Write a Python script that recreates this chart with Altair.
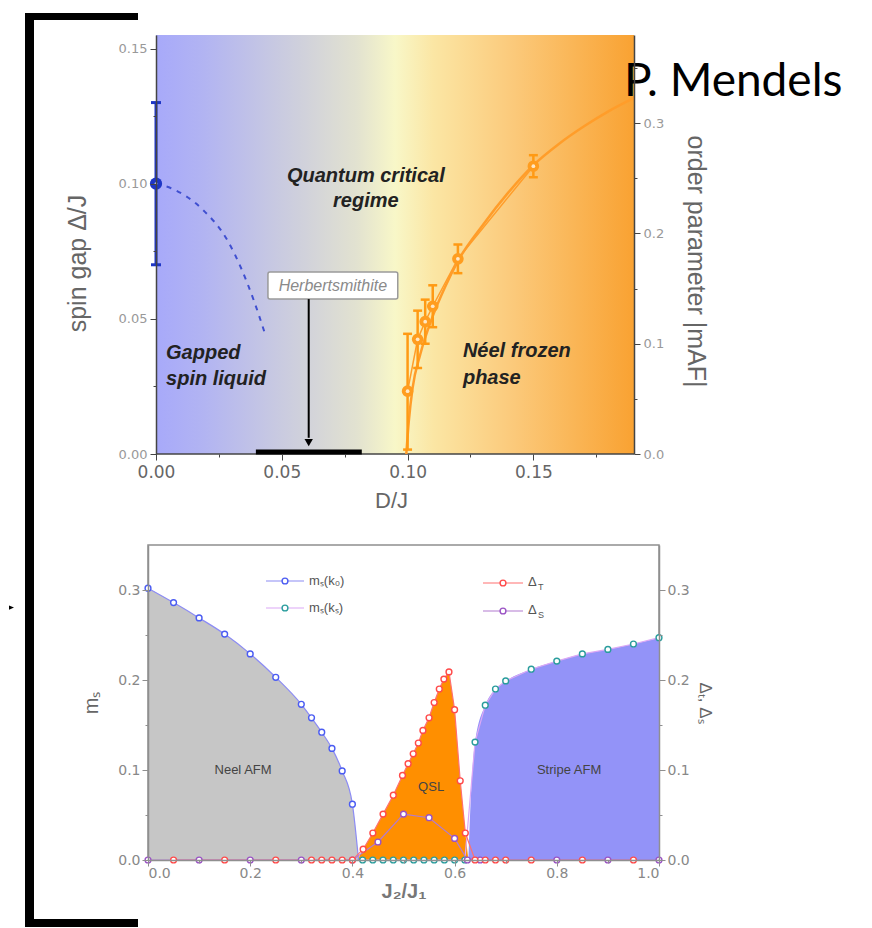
import altair as alt
import pandas as pd

FONT = "Liberation Sans"

# ================= top panel: spin gap / order parameter vs D/J =================
gap_D = [0.0]
gap_val = [0.100]
gap_lo = [0.070]
gap_hi = [0.130]

gapfit_D = [0.000, 0.006, 0.018, 0.0286, 0.039, 0.043]
gapfit_val = [0.100, 0.0983, 0.0909, 0.0787, 0.0565, 0.0454]

ord_D = [0.100, 0.104, 0.107, 0.110, 0.120, 0.150]
ord_m = [0.057, 0.104, 0.120, 0.134, 0.177, 0.261]
ord_lo = [0.004, 0.078, 0.100, 0.115, 0.164, 0.251]
ord_hi = [0.109, 0.130, 0.140, 0.153, 0.190, 0.271]

ordfit_D = [0.0995, 0.1005, 0.102, 0.105, 0.110, 0.115, 0.120, 0.130, 0.140, 0.150, 0.160, 0.170, 0.180, 0.190]
ordfit_m = [0.000, 0.030, 0.060, 0.090, 0.125, 0.152, 0.175, 0.208, 0.237, 0.262, 0.281, 0.297, 0.311, 0.323]

herb_box_D = [0.0445, 0.0961]
herb_box_val = [0.0573, 0.0673]
herb_label = ["Herbertsmithite"]
herb_label_D = [0.0703]
herb_label_val = [0.0623]
herb_arrow_D = [0.0607]
herb_arrow_val = [0.0573, 0.0060]
herb_head_val = [0.0042]
herb_range_D = [0.0397, 0.0818]
herb_range_val = [0.0007]

top_center_text = ["Quantum critical", "regime"]
top_center_D = [0.0834, 0.0834]
top_center_val = [0.1029, 0.0935]
top_left_text = ["Gapped", "spin liquid", "Néel frozen", "phase"]
top_left_D = [0.004, 0.004, 0.122, 0.122]
top_left_val = [0.0373, 0.0277, 0.0380, 0.0280]

top_plot_D = [0.0, 0.19]          # extent of the coloured phase background
top_x_domain = [-0.00318, 0.19]   # panel starts a few pixels left of D = 0
top_y_domain = [0.0, 0.155]
top_y2_domain = [0.0, 0.38]
top_x_ticks = [0.0, 0.025, 0.05, 0.075, 0.10, 0.125, 0.15, 0.175]
top_x_major = [0.0, 0.05, 0.10, 0.15]
top_y_ticks = [0.0, 0.025, 0.05, 0.075, 0.10, 0.125, 0.15]
top_y_major = [0.0, 0.05, 0.10, 0.15]
top_y2_ticks = [0.0, 0.05, 0.10, 0.15, 0.20, 0.25, 0.30, 0.35]
top_y2_major = [0.0, 0.10, 0.20, 0.30]

# gradient colours of the phase background (left -> right)
bg_offsets = [0.0, 0.10, 0.30, 0.42, 0.50, 0.58, 0.75, 1.0]
bg_colors = ["#a7a9fa", "#b2b4f2", "#cfd0dc", "#e2e2d0", "#f8f7c8", "#fbe6a4", "#fbc97a", "#f9a232"]

# ================= bottom panel: J2/J1 phase diagram =================
neel_x = [0.0, 0.05, 0.10, 0.15, 0.20, 0.25, 0.30, 0.32, 0.34, 0.36, 0.38, 0.40]
neel_m = [0.302, 0.286, 0.269, 0.251, 0.229, 0.203, 0.173, 0.158, 0.142, 0.124, 0.099, 0.062]
neel_end_x = [0.412]
neel_end_m = [0.0]

stripe_zero_x = [0.42, 0.44, 0.46, 0.48, 0.50, 0.52, 0.54, 0.56, 0.58, 0.60, 0.62]
stripe_x = [0.64, 0.66, 0.68, 0.70, 0.75, 0.80, 0.85, 0.90, 0.95, 1.00]
stripe_m = [0.131, 0.172, 0.190, 0.199, 0.212, 0.221, 0.229, 0.234, 0.240, 0.247]
stripe_edge_x = [0.627, 0.631]
stripe_edge_m = [0.0, 0.060]

dT_x = [0.05, 0.15, 0.25, 0.32, 0.34, 0.36, 0.38, 0.40,
        0.421, 0.44, 0.46, 0.48, 0.498, 0.509, 0.519, 0.529, 0.538, 0.55, 0.56, 0.57, 0.579, 0.589,
        0.60, 0.611, 0.621, 0.64, 0.66, 0.68, 0.70, 0.75, 0.85, 0.95]
dT_v = [0, 0, 0, 0, 0, 0, 0, 0,
        0.012, 0.030, 0.051, 0.072, 0.094, 0.107, 0.118, 0.130, 0.144, 0.158, 0.175, 0.190, 0.201, 0.209,
        0.167, 0.088, 0.030, 0, 0, 0, 0, 0, 0, 0]
qsl_edge_x = [0.41, 0.627]

dS_x = [0.0, 0.10, 0.20, 0.30, 0.40, 0.45, 0.50, 0.55, 0.60, 0.625, 0.65, 0.80, 0.90, 1.00]
dS_v = [0, 0, 0, 0, 0, 0.020, 0.051, 0.047, 0.024, 0, 0, 0, 0, 0]

bot_text = ["Neel AFM", "QSL", "Stripe AFM"]
bot_text_x = [0.186, 0.554, 0.824]
bot_text_v = [0.0995, 0.081, 0.0995]

bot_x_domain = [0.0, 1.0]
bot_y_domain = [0.0, 0.35]
bot_x_ticks = [0.0, 0.1, 0.2, 0.3, 0.4, 0.5, 0.6, 0.7, 0.8, 0.9, 1.0]
bot_x_major = [0.0, 0.2, 0.4, 0.6, 0.8, 1.0]
bot_y_ticks = [0.0, 0.05, 0.1, 0.15, 0.2, 0.25, 0.3]
bot_y_major = [0.0, 0.1, 0.2, 0.3]

C_GRAY, C_BLUEFILL, C_ORANGE = "#c6c6c6", "#9393f8", "#ff8f00"
C_BLUE, C_TEAL, C_RED, C_PURPLE = "#4b5cf2", "#2a9d9d", "#ff4a4a", "#9a52c4"
C_BLUELINE, C_VIOLETLINE, C_REDLINE, C_PURPLELINE = "#8c8cf4", "#dca8f5", "#ff7070", "#b27ad0"


def arr(lst):
    return "[" + ",".join(repr(float(v)) for v in lst) + "]"


def major_axis(ticks, major, fmt, **kw):
    test = f"indexof({arr(major)}, datum.value) < 0"
    return alt.Axis(
        values=ticks,
        labelExpr=f"indexof({arr(major)}, datum.value) >= 0 ? format(datum.value, '{fmt}') : ''",
        tickSize={"condition": {"test": test, "value": 3}, "value": 6},
        labelOverlap=False, grid=False, zindex=1, **kw)


one = pd.DataFrame({"k": [0]})

# ---------------- top panel ----------------
xs_t = alt.Scale(domain=top_x_domain, nice=False, zero=False)
ys_t = alt.Scale(domain=top_y_domain, nice=False)
ys_t2 = alt.Scale(domain=top_y2_domain, nice=False)
xax_t = major_axis(top_x_ticks, top_x_major, ".2f", title="D/J", labelFont="DejaVu Sans",
                   labelFontSize=17, labelColor="#666", labelPadding=4, domain=False,
                   tickColor="#444", titleFont=FONT, titleFontSize=22,
                   titleFontWeight="normal", titleColor="#666", titlePadding=10)
yax_t = major_axis(top_y_ticks, top_y_major, ".2f", title="spin gap Δ/J", labelFont="DejaVu Sans",
                   labelFontSize=13, labelColor="#999", labelPadding=3, domainColor="#444",
                   domainWidth=1.5, tickColor="#444", titleFont=FONT, titleFontSize=25,
                   titleFontWeight="normal", titleColor="#666", titlePadding=28, titleY=228, offset=-8)
yax_t2 = major_axis(top_y2_ticks, top_y2_major, ".1f", title="order parameter |mAF|", orient="right",
                    labelFont="DejaVu Sans", labelFontSize=13, labelColor="#999", labelPadding=3,
                    domainColor="#444", domainWidth=1.5, tickColor="#444", titleFont=FONT,
                    titleFontSize=25, titleFontWeight="normal", titleColor="#666", titlePadding=19,
                    titleY=226)


def tx(f):
    return alt.X(f, type="quantitative", scale=xs_t, axis=xax_t)


def ty(f):
    return alt.Y(f, type="quantitative", scale=ys_t, axis=yax_t)


def ty2(f):
    return alt.Y(f, type="quantitative", scale=ys_t2, axis=yax_t2)


bg_df = pd.DataFrame({"x0": [top_plot_D[0]], "x1": [top_plot_D[1]],
                      "y0": [top_y_domain[0]], "y1": [top_y_domain[1]]})
grad = alt.LinearGradient(gradient="linear", x1=0, x2=1, y1=0, y2=0,
                          stops=[alt.GradientStop(offset=o, color=c) for o, c in zip(bg_offsets, bg_colors)])
bg = alt.Chart(bg_df).mark_rect(fill=grad).encode(x=tx("x0"), x2="x1", y=ty("y0"), y2="y1")
base_line = alt.Chart(bg_df).mark_rule(color="#444", strokeWidth=1.5).encode(x=tx("x0"), x2="x1", y=ty("y0"))

gapfit = alt.Chart(pd.DataFrame({"D": gapfit_D, "v": gapfit_val})).mark_line(
    color="#3f4fd0", strokeWidth=2, strokeDash=[5, 6], interpolate="monotone").encode(x=tx("D"), y=ty("v"))

gap_df = pd.DataFrame({"D": gap_D, "v": gap_val, "lo": gap_lo, "hi": gap_hi})
gap_err = alt.Chart(gap_df).mark_rule(color="#1e36c6", strokeWidth=3).encode(x=tx("D"), y=ty("lo"), y2="hi")
gap_caps_df = pd.DataFrame({"D": gap_D * 2, "v": gap_lo + gap_hi})
gap_caps = alt.Chart(gap_caps_df).mark_point(shape="M-1,0L1,0", filled=False, color="#1e36c6",
                                             strokeWidth=3, size=100, opacity=1).encode(x=tx("D"), y=ty("v"))
gap_pt = alt.Chart(gap_df).mark_point(filled=True, color="#1e36c6", size=150, opacity=1).encode(x=tx("D"), y=ty("v"))
gap_hl = alt.Chart(gap_df).mark_point(filled=True, color="#e8ebff", size=8, opacity=0.9).encode(x=tx("D"), y=ty("v"))

herb_box = alt.Chart(pd.DataFrame({"x0": [herb_box_D[0]], "x1": [herb_box_D[1]],
                                   "y0": [herb_box_val[0]], "y1": [herb_box_val[1]]})).mark_rect(
    fill="white", stroke="#9a9a9a", strokeWidth=1.5, cornerRadius=2).encode(x=tx("x0"), x2="x1", y=ty("y0"), y2="y1")
herb_txt = alt.Chart(pd.DataFrame({"t": herb_label, "D": herb_label_D, "v": herb_label_val})).mark_text(
    font=FONT, fontSize=16, fontStyle="italic", color="#8a8a8a", align="center", baseline="middle").encode(
    x=tx("D"), y=ty("v"), text="t:N")
herb_arrow = alt.Chart(pd.DataFrame({"D": herb_arrow_D, "y0": [herb_arrow_val[0]], "y1": [herb_arrow_val[1]]})).mark_rule(
    color="black", strokeWidth=2).encode(x=tx("D"), y=ty("y0"), y2="y1")
herb_head = alt.Chart(pd.DataFrame({"D": herb_arrow_D, "v": herb_head_val})).mark_point(
    shape="triangle-down", filled=True, color="black", size=70, opacity=1).encode(x=tx("D"), y=ty("v"))
herb_range = alt.Chart(pd.DataFrame({"x0": [herb_range_D[0]], "x1": [herb_range_D[1]], "v": herb_range_val})).mark_rule(
    color="black", strokeWidth=5).encode(x=tx("x0"), x2="x1", y=ty("v"))

txt_c = alt.Chart(pd.DataFrame({"t": top_center_text, "D": top_center_D, "v": top_center_val})).mark_text(
    font=FONT, fontSize=20, fontStyle="italic", fontWeight="bold", color="#222", align="center",
    baseline="middle").encode(x=tx("D"), y=ty("v"), text="t:N")
txt_l = alt.Chart(pd.DataFrame({"t": top_left_text, "D": top_left_D, "v": top_left_val})).mark_text(
    font=FONT, fontSize=20, fontStyle="italic", fontWeight="bold", color="#222", align="left",
    baseline="middle").encode(x=tx("D"), y=ty("v"), text="t:N")

mendels = alt.Chart(one).mark_text(text="P. Mendels", font="Lato", fontSize=46, color="black",
                                   align="left", baseline="alphabetic").encode(x=alt.value(476), y=alt.value(61))

ordfit = alt.Chart(pd.DataFrame({"D": ordfit_D, "m": ordfit_m})).mark_line(
    color="#ff9d2a", strokeWidth=2.5, interpolate="monotone").encode(x=tx("D"), y=ty2("m"))
ord_df = pd.DataFrame({"D": ord_D, "m": ord_m, "lo": ord_lo, "hi": ord_hi})
ord_line = alt.Chart(ord_df).mark_line(color="#ff9d2a", strokeWidth=1.5).encode(x=tx("D"), y=ty2("m"))
ord_err = alt.Chart(ord_df).mark_rule(color="#ff9a14", strokeWidth=2.5).encode(x=tx("D"), y=ty2("lo"), y2="hi")
ord_caps = alt.Chart(pd.DataFrame({"D": ord_D * 2, "m": ord_lo + ord_hi})).mark_point(
    shape="M-1,0L1,0", filled=False, color="#ff9a14", strokeWidth=2.5, size=80, opacity=1).encode(x=tx("D"), y=ty2("m"))
ord_pt = alt.Chart(ord_df).mark_point(filled=True, color="#ff9d1f", size=135, opacity=1).encode(x=tx("D"), y=ty2("m"))
ord_hl = alt.Chart(ord_df).mark_point(filled=True, color="#fff1d8", size=14, opacity=0.9).encode(x=tx("D"), y=ty2("m"))

top_left_group = alt.layer(bg, base_line, gapfit, gap_err, gap_caps, gap_pt, gap_hl, herb_box, herb_txt,
                           herb_arrow, herb_head, herb_range, txt_c, txt_l, mendels)
top_right_group = alt.layer(ordfit, ord_line, ord_err, ord_caps, ord_pt, ord_hl)
top = alt.layer(top_left_group, top_right_group).resolve_scale(y="independent").properties(
    width=486, height=419)

# ---------------- bottom panel ----------------
xs_b = alt.Scale(domain=bot_x_domain, nice=False)
ys_b = alt.Scale(domain=bot_y_domain, nice=False)
xax_b = major_axis(bot_x_ticks, bot_x_major, ".1f", title="J₂/J₁", labelFont="DejaVu Sans",
                   labelFontSize=14, labelColor="#888", labelPadding=0, domainColor="#8f8f8f",
                   domainWidth=1.5, tickColor="#8f8f8f", titleFont=FONT, titleFontSize=20,
                   titleFontWeight="bold", titleColor="#777", titlePadding=1)
yax_b = major_axis(bot_y_ticks, bot_y_major, ".1f", title="mₛ", labelFont="DejaVu Sans",
                   labelFontSize=14, labelColor="#888", labelPadding=2, domainColor="#8f8f8f",
                   domainWidth=1.5, tickColor="#8f8f8f", titleFont=FONT, titleFontSize=20,
                   titleFontWeight="normal", titleColor="#666", titlePadding=16)
yax_b2 = major_axis(bot_y_ticks, bot_y_major, ".1f", title="Δₜ, Δₛ", orient="right",
                    labelFont="DejaVu Sans", labelFontSize=14, labelColor="#888", labelPadding=2,
                    domainColor="#8f8f8f", domainWidth=1.5, tickColor="#8f8f8f", titleFont=FONT,
                    titleFontSize=17, titleFontWeight="normal", titleColor="#666", titlePadding=6)


def bx(f):
    return alt.X(f, type="quantitative", scale=xs_b, axis=xax_b)


def by(f):
    return alt.Y(f, type="quantitative", scale=ys_b, axis=yax_b)


neel_fill_df = pd.DataFrame({"x": neel_x + neel_end_x, "v": neel_m + neel_end_m})
stripe_fill_df = pd.DataFrame({"x": stripe_edge_x + stripe_x, "v": stripe_edge_m + stripe_m})
qsl_pts = [(x, v) for x, v in zip(dT_x, dT_v) if qsl_edge_x[0] < x < qsl_edge_x[1]]
qsl_df = pd.DataFrame({"x": [qsl_edge_x[0]] + [p[0] for p in qsl_pts] + [qsl_edge_x[1]],
                       "v": [0.0] + [p[1] for p in qsl_pts] + [0.0]})
neel_df = pd.DataFrame({"x": neel_x, "v": neel_m})
ks_df = pd.DataFrame({"x": stripe_zero_x + stripe_x, "v": [0.0] * len(stripe_zero_x) + stripe_m})
dT_df = pd.DataFrame({"x": dT_x, "v": dT_v})
dS_df = pd.DataFrame({"x": dS_x, "v": dS_v})


def area(df, color, interp):
    return alt.Chart(df).mark_area(color=color, opacity=1, interpolate=interp).encode(x=bx("x"), y=by("v"))


def line(df, color, interp="linear"):
    return alt.Chart(df).mark_line(color=color, strokeWidth=1.2, interpolate=interp).encode(x=bx("x"), y=by("v"))


def hollow(df, color):
    return alt.Chart(df).mark_point(shape="circle", filled=True, fill="white", stroke=color,
                                    strokeWidth=1.4, size=34, opacity=1).encode(x=bx("x"), y=by("v"))


bot_txt = alt.Chart(pd.DataFrame({"t": bot_text, "x": bot_text_x, "v": bot_text_v})).mark_text(
    font=FONT, fontSize=13, color="#444", align="center", baseline="middle").encode(x=bx("x"), y=by("v"), text="t:N")


# legend (pixel positions in the panel)
def leg_line(x1, x2, y, color):
    return alt.Chart(one).mark_rule(color=color, strokeWidth=1.2).encode(
        x=alt.value(x1), x2=alt.value(x2), y=alt.value(y))


def leg_mark(x, y, color):
    return alt.Chart(one).mark_point(shape="circle", filled=True, fill="white", stroke=color,
                                     strokeWidth=1.4, size=34, opacity=1).encode(x=alt.value(x), y=alt.value(y))


def leg_text(t, x, y, size=13):
    return alt.Chart(one).mark_text(text=t, font=FONT, fontSize=size, color="#555", align="left",
                                    baseline="middle").encode(x=alt.value(x), y=alt.value(y))


legend = [
    leg_line(118, 156, 36, C_BLUELINE), leg_mark(137, 36, C_BLUE), leg_text("mₛ(k₀)", 161, 36),
    leg_line(118, 156, 63, C_VIOLETLINE), leg_mark(137, 63, C_TEAL), leg_text("mₛ(kₛ)", 161, 63),
    leg_line(335, 375, 38, C_REDLINE), leg_mark(355, 38, C_RED), leg_text("Δ", 380, 37),
    leg_text("T", 390, 42, 9),
    leg_line(335, 375, 66, C_PURPLELINE), leg_mark(355, 66, C_PURPLE), leg_text("Δ", 380, 65),
    leg_text("S", 390, 70, 9),
]


# slide bracket and pointer arrow (pixel positions relative to the lower panel)
def rect_px(x1, x2, y1, y2):
    return alt.Chart(one).mark_rect(color="black").encode(
        x=alt.value(x1), x2=alt.value(x2), y=alt.value(y1), y2=alt.value(y2))


bracket = [rect_px(-123, -114, -532, 382), rect_px(-123, -10, -532, -525), rect_px(-123, -10, 374, 382)]
pointer = alt.Chart(one).mark_point(shape="M-1,-0.85L1,0L-1,0.85Z", filled=True, color="black",
                                    size=25, opacity=1).encode(x=alt.value(-136.5), y=alt.value(62.5))

bot_main = alt.layer(
    area(neel_fill_df, C_GRAY, "monotone"),
    area(stripe_fill_df, C_BLUEFILL, "monotone"),
    area(qsl_df, C_ORANGE, "linear"),
    line(neel_fill_df, C_BLUELINE, "monotone"),
    line(ks_df, C_VIOLETLINE),
    line(dT_df, C_REDLINE),
    line(dS_df, C_PURPLELINE),
    hollow(neel_df, C_BLUE),
    hollow(ks_df, C_TEAL),
    hollow(dS_df, C_PURPLE),
    hollow(dT_df, C_RED),
    bot_txt,
    *legend,
    *bracket,
    pointer,
)
bot_right = alt.Chart(pd.DataFrame({"v": bot_y_domain})).mark_point(opacity=0).encode(
    y=alt.Y("v:Q", scale=ys_b, axis=yax_b2))
bottom = alt.layer(bot_main, bot_right).resolve_scale(y="independent").properties(
    width=511, height=315, view=alt.ViewBackground(stroke="#8f8f8f", strokeWidth=1.5))

chart = alt.vconcat(top, bottom, spacing=91, bounds="flush").properties(
    padding={"left": 0, "top": 4, "right": 0, "bottom": 0}
).configure_view(stroke="transparent")

chart.save("out.html", embed_options={"renderer": "svg", "actions": False})
